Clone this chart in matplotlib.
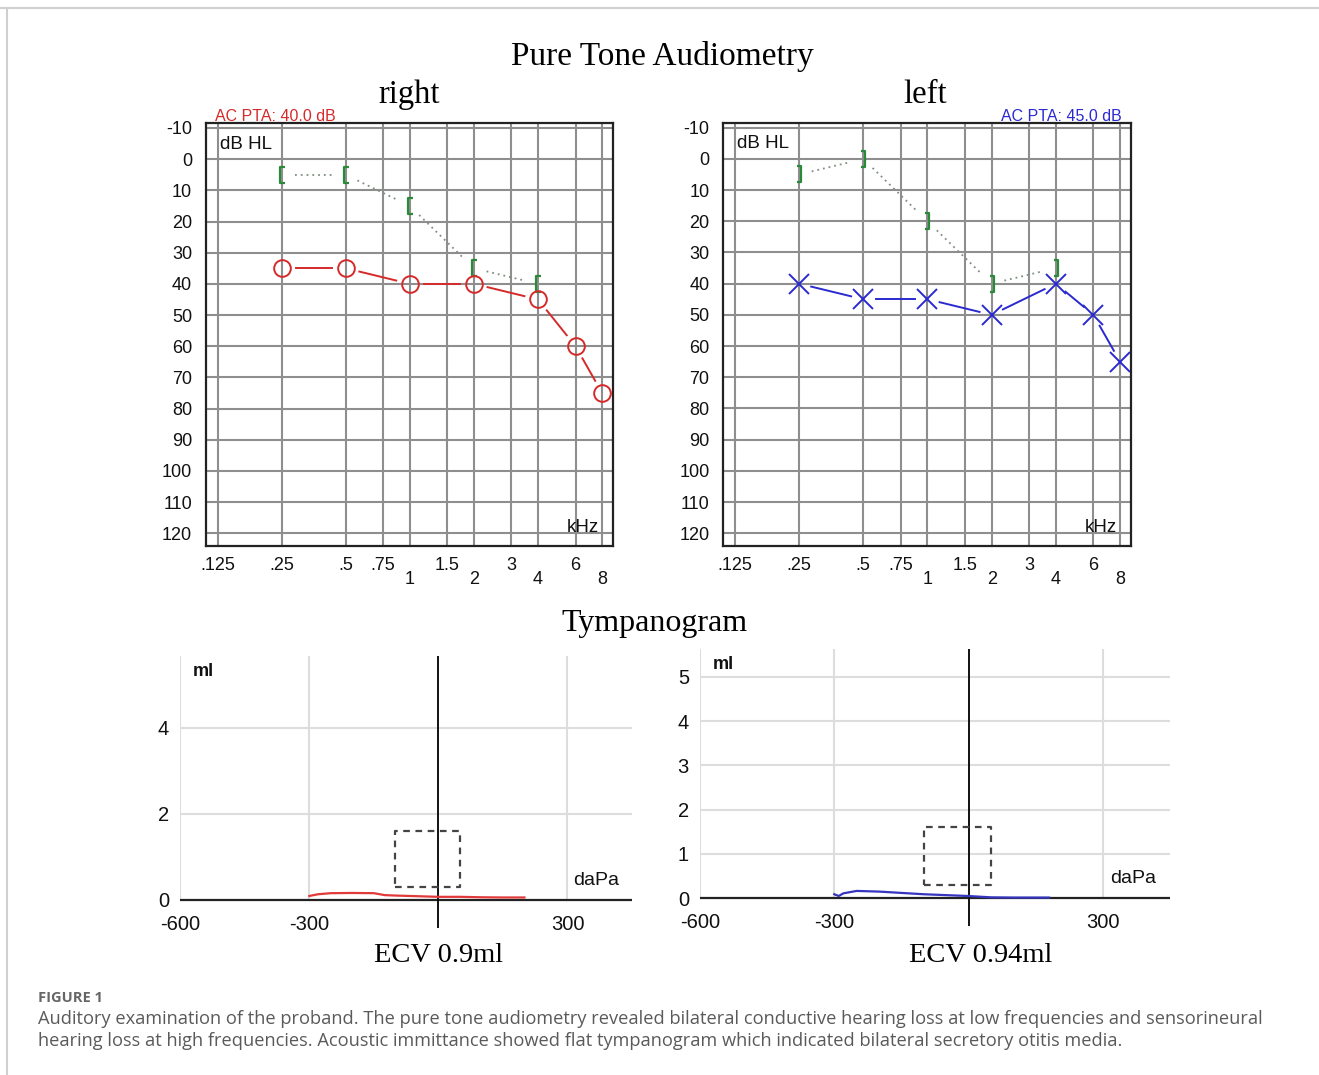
import numpy as np
import matplotlib
matplotlib.use("Agg")
import matplotlib.pyplot as plt
from matplotlib.path import Path
from matplotlib.lines import Line2D

# ---------------- data ----------------
freqs_ac = [0.25, 0.5, 1, 2, 4, 6, 8]
right_ac = [35, 35, 40, 40, 45, 60, 75]
left_ac = [40, 45, 45, 50, 40, 50, 65]
freqs_bc = [0.25, 0.5, 1, 2, 4]
right_bc = [5, 5, 15, 35, 40]
left_bc = [5, 0, 20, 40, 35]

grid_freqs = [0.125, 0.25, 0.5, 0.75, 1, 1.5, 2, 3, 4, 6, 8]
freq_labels = ['.125', '.25', '.5', '.75', '\n1', '1.5', '\n2', '3', '\n4', '6', '\n8']
db_ticks = list(range(-10, 130, 10))

right_pta = "AC PTA: 40.0 dB"
left_pta = "AC PTA: 45.0 dB"

tymp_right_p = [-300, -280, -250, -200, -150, -125, -100, -50, 0, 50, 100, 150, 200]
tymp_right_v = [0.09, 0.13, 0.155, 0.16, 0.155, 0.11, 0.10, 0.085, 0.07, 0.07, 0.06, 0.055, 0.055]
tymp_left_p = [-300, -290, -280, -250, -200, -150, -100, -50, 0, 50, 100, 150, 180]
tymp_left_v = [0.09, 0.05, 0.11, 0.165, 0.15, 0.12, 0.09, 0.07, 0.05, 0.02, 0.015, 0.015, 0.015]
right_ecv = "ECV 0.9ml"
left_ecv = "ECV 0.94ml"
norm_box_p = [-100, 50]
norm_box_v = [0.3, 1.6]

caption = ("Auditory examination of the proband. The pure tone audiometry revealed bilateral conductive hearing loss at low frequencies and sensorineural\n"
           "hearing loss at high frequencies. Acoustic immittance showed flat tympanogram which indicated bilateral secretory otitis media.")

# ---------------- figure ----------------
W, H = 1319, 1075
DPI = 100
fig = plt.figure(figsize=(W / DPI, H / DPI), dpi=DPI)
fig.patch.set_facecolor('white')

SANS = ['Liberation Sans', 'DejaVu Sans']
SERIF = ['Liberation Serif', 'DejaVu Serif']
CAP = ['Open Sans', 'DejaVu Sans']


def px_axes(left, top, right, bottom):
    return fig.add_axes([left / W, 1 - bottom / H, (right - left) / W, (bottom - top) / H])


def ftext(x, y, s, **kw):
    return fig.text(x / W, 1 - y / H, s, **kw)


def gapped_line(ax, x, y, gap, **kw):
    pts = ax.transData.transform(np.column_stack([x, y]))
    inv = ax.transData.inverted()
    for p, q in zip(pts[:-1], pts[1:]):
        d = q - p
        L = np.hypot(*d)
        if L <= 2 * gap:
            continue
        u = d / L
        a = inv.transform(p + u * gap)
        b = inv.transform(q - u * gap)
        ax.plot([a[0], b[0]], [a[1], b[1]], clip_on=False, **kw)


lbr = Path([(0.3, 1), (-0.2, 1), (-0.2, -1), (0.3, -1)],
           [Path.MOVETO, Path.LINETO, Path.LINETO, Path.LINETO])
rbr = Path([(-0.3, 1), (0.2, 1), (0.2, -1), (-0.3, -1)],
           [Path.MOVETO, Path.LINETO, Path.LINETO, Path.LINETO])

XLIM = (0.125 * 2 ** -0.18, 8 * 2 ** 0.17)
YLIM = (124.0, -11.6)


def audiogram(ax, ac, ac_style, bc, bc_marker, pta, pta_color, pta_left):
    ax.set_xscale('log', base=2)
    ax.set_xlim(*XLIM)
    ax.set_ylim(*YLIM)
    ax.set_xticks(grid_freqs)
    ax.set_xticklabels(freq_labels, fontsize=13, family=SANS, linespacing=0.82)
    ax.xaxis.set_minor_locator(matplotlib.ticker.NullLocator())
    ax.set_yticks(db_ticks)
    ax.set_yticklabels([str(v) for v in db_ticks], fontsize=13, family=SANS)
    ax.tick_params(axis='both', length=0, colors='#111111')
    ax.tick_params(axis='x', pad=8)
    ax.tick_params(axis='y', pad=10)
    ax.grid(True, color='#8e8e8e', lw=1.5)
    ax.set_axisbelow(True)
    for s in ax.spines.values():
        s.set_color('#222222')
        s.set_linewidth(1.6)
    # bone conduction
    gapped_line(ax, freqs_bc, bc, 13, color='#7f8f7f', lw=1.3, ls=(0, (1, 2.2)))
    ax.plot(freqs_bc, bc, ls='none', marker=bc_marker, ms=12, mec='#2a8a3a',
            mfc='none', mew=1.6, clip_on=False)
    # air conduction
    color, marker, ms, gap = ac_style
    gapped_line(ax, freqs_ac, ac, gap, color=color, lw=1.4)
    ax.plot(freqs_ac, ac, ls='none', marker=marker, ms=ms, mec=color,
            mfc='none', mew=1.4, clip_on=False)
    ax.text(0.034, 0.950, 'dB HL', transform=ax.transAxes, fontsize=13.5,
            family=SANS, va='center', ha='left', color='#111111')
    ax.text(0.965, 0.042, 'kHz', transform=ax.transAxes, fontsize=13.5,
            family=SANS, va='center', ha='right', color='#111111')
    if pta_left:
        ax.text(0.022, 0.997, pta, transform=ax.transAxes, fontsize=11.5, family=SANS,
                va='bottom', ha='left', color=pta_color)
    else:
        ax.text(0.978, 0.997, pta, transform=ax.transAxes, fontsize=11.5, family=SANS,
                va='bottom', ha='right', color=pta_color)


axR = px_axes(206, 123, 613, 545.7)
axL = px_axes(723.3, 122.7, 1131, 545.7)
audiogram(axR, right_ac, ('#d62a2a', 'o', 12, 14), right_bc, lbr, right_pta, '#d62a2a', True)
audiogram(axL, left_ac, ('#2a2ad0', 'x', 14, 12.5), left_bc, rbr, left_pta, '#2a2ad0', False)


def tympanogram(ax, p, v, color, yticks, lo, hi):
    ax.set_xlim(-600, 450)
    ax.set_ylim(lo, hi)
    for s in ax.spines.values():
        s.set_visible(False)
    for gx in [-600, -300, 300]:
        ax.plot([gx, gx], [0, hi], color='#dddddd', lw=1.5, zorder=0)
    for gy in yticks[1:]:
        ax.plot([-600, 450], [gy, gy], color='#dddddd', lw=1.5, zorder=0)
    ax.axhline(0, color='#222222', lw=1.6, zorder=1)
    ax.axvline(0, color='#111111', lw=1.4, zorder=1)
    bx = [norm_box_p[0], norm_box_p[1], norm_box_p[1], norm_box_p[0], norm_box_p[0]]
    by = [norm_box_v[0], norm_box_v[0], norm_box_v[1], norm_box_v[1], norm_box_v[0]]
    ax.plot(bx, by, color='#444444', lw=1.6, ls=(0, (3, 2.5)), zorder=2)
    ax.plot(p, v, color=color, lw=1.6, zorder=3)
    ax.set_xticks([-600, -300, 300])
    ax.set_xticklabels(['-600', '-300', '300'], fontsize=14.5, family=SANS)
    ax.set_yticks(yticks)
    ax.set_yticklabels([str(t) for t in yticks], fontsize=14.5, family=SANS)
    ax.tick_params(axis='both', length=0, colors='#111111')
    ax.tick_params(axis='x', pad=-9)
    ax.tick_params(axis='y', pad=8)
    ax.text(-572, hi - 0.35, 'ml', fontsize=13, family=SANS, ha='left',
            va='center', color='#111111', fontweight='bold')
    ax.text(420, 0.45, 'daPa', fontsize=14, family=SANS, ha='right',
            va='center', color='#111111')


axT1 = px_axes(180.3, 656, 632, 927.8)
tympanogram(axT1, tymp_right_p, tymp_right_v, '#e03a3a', [0, 2, 4], -0.65, 5.67)

axT2 = px_axes(700, 649.3, 1170, 925.7)
tympanogram(axT2, tymp_left_p, tymp_left_v, '#3535c0', [0, 1, 2, 3, 4, 5], -0.62, 5.62)

# ---------------- titles ----------------
ftext(662, 57, 'Pure Tone Audiometry', fontsize=24, family=SERIF, ha='center', va='center')
ftext(409, 95, 'right', fontsize=23.5, family=SERIF, ha='center', va='center')
ftext(925, 95, 'left', fontsize=23.5, family=SERIF, ha='center', va='center')
ftext(655, 624, 'Tympanogram', fontsize=23, family=SERIF, ha='center', va='center')
ftext(439, 956, right_ecv, fontsize=20.5, family=SERIF, ha='center', va='center')
ftext(981, 956, left_ecv, fontsize=20.5, family=SERIF, ha='center', va='center')

# ---------------- caption ----------------
ftext(38, 998, 'FIGURE 1', fontsize=10.5, family=CAP,
      fontweight='bold', color='#666666', ha='left', va='center')
ftext(38, 1030, caption, fontsize=13.12, family=CAP,
      color='#5a5a5a', ha='left', va='center', linespacing=1.24)

# frame lines
fig.add_artist(Line2D([0, 1], [1 - 7.5 / H, 1 - 7.5 / H], transform=fig.transFigure,
                      color='#d0d0d0', lw=1.5))
fig.add_artist(Line2D([6.5 / W, 6.5 / W], [0, 1 - 7.5 / H], transform=fig.transFigure,
                      color='#d0d0d0', lw=1.5))

fig.savefig('out.png', dpi=DPI, facecolor='white')
